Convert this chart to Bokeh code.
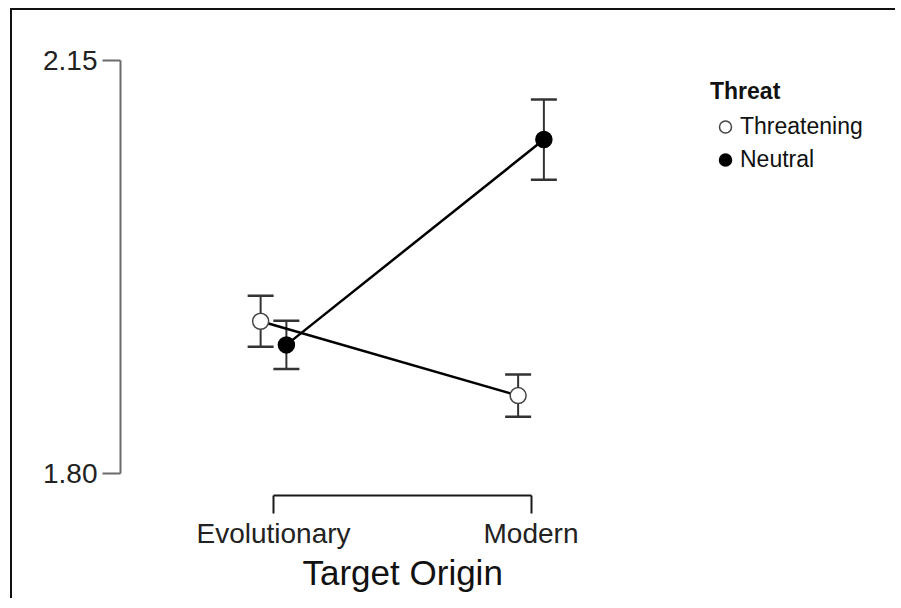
from bokeh.plotting import figure
from bokeh.models import (ColumnDataSource, Whisker, TeeHead, FixedTicker, Range1d,
                          Legend, LegendItem, PrintfTickFormatter, Title)
from bokeh.embed import file_html
from bokeh.resources import INLINE

# ---- data ----
categories = ["Evolutionary", "Modern"]
threat_levels = ["Threatening", "Neutral"]
threatening_mean = [1.929, 1.866]
threatening_err = [0.0216, 0.018]
neutral_mean = [1.909, 2.083]
neutral_err = [0.0205, 0.034]
y_ticks = [1.80, 2.15]
x_title = "Target Origin"

FONT = "Liberation Sans"
cat_pos = list(range(len(categories)))
dodge = 0.05

def make_src(means, errs, off):
    xs = [c + off for c in cat_pos]
    return ColumnDataSource(dict(
        x=xs, y=means,
        upper=[m + e for m, e in zip(means, errs)],
        lower=[m - e for m, e in zip(means, errs)],
    ))

src_t = make_src(threatening_mean, threatening_err, -dodge)
src_n = make_src(neutral_mean, neutral_err, dodge)

p = figure(width=885, height=590, output_backend="svg", toolbar_location=None,
           x_range=Range1d(-0.5942, 2.4233), y_range=Range1d(1.78136, 2.19237),
           min_border_left=108, min_border_right=0, min_border_top=0, min_border_bottom=105)
p.styles = {"border-left": "2px solid #111111", "border-top": "2px solid #111111",
            "margin-left": "10px", "margin-top": "8px"}
p.outline_line_color = None
p.xgrid.visible = False
p.ygrid.visible = False
p.background_fill_color = "white"
p.border_fill_color = "white"

# y axis
ya = p.yaxis[0]
ya.ticker = FixedTicker(ticks=y_ticks)
ya.formatter = PrintfTickFormatter(format="%.2f")
ya.bounds = (y_ticks[0], y_ticks[-1])
ya.axis_line_color = "#6a6a6a"
ya.axis_line_width = 2
ya.major_tick_line_color = "#6a6a6a"
ya.major_tick_line_width = 2
ya.major_tick_out = 18
ya.major_tick_in = 0
ya.minor_tick_out = 0
ya.minor_tick_in = 0
ya.major_label_text_font = FONT
ya.major_label_text_font_size = "28px"
ya.major_label_text_color = "#222222"
ya.major_label_standoff = 5

# x axis
xa = p.xaxis[0]
xa.ticker = FixedTicker(ticks=cat_pos)
xa.major_label_overrides = {i: c for i, c in enumerate(categories)}
xa.bounds = (cat_pos[0], cat_pos[-1])
xa.axis_line_color = "#1a1a1a"
xa.axis_line_width = 2
xa.major_tick_line_color = "#1a1a1a"
xa.major_tick_line_width = 2
xa.major_tick_out = 18
xa.major_tick_in = 0
xa.minor_tick_out = 0
xa.minor_tick_in = 0
xa.major_label_text_font = FONT
xa.major_label_text_font_size = "28px"
xa.major_label_text_color = "#222222"
xa.major_label_standoff = 4

# x axis title, centred under the bracket
t = Title(text=x_title, align="left", offset=182, standoff=2, vertical_align="top",
          text_font=FONT, text_font_size="35px", text_font_style="normal",
          text_color="#111111")
p.add_layout(t, "below")

# lines
p.line("x", "y", source=src_t, line_color="black", line_width=2.5)
p.line("x", "y", source=src_n, line_color="black", line_width=2.5)

# error bars
for src in (src_t, src_n):
    w = Whisker(source=src, base="x", upper="upper", lower="lower",
                line_color="#333333", line_width=2,
                upper_head=TeeHead(size=26, line_color="#333333", line_width=2.5),
                lower_head=TeeHead(size=26, line_color="#333333", line_width=2.5))
    p.add_layout(w)

# markers
r_t = p.scatter("x", "y", source=src_t, size=16, fill_color="white",
                line_color="#444444", line_width=1.5)
r_n = p.scatter("x", "y", source=src_n, size=16, fill_color="black",
                line_color="black", line_width=1.5)

legend = Legend(items=[LegendItem(label=threat_levels[0], renderers=[r_t]),
                       LegendItem(label=threat_levels[1], renderers=[r_n])],
                location=(590, 319), title="Threat")
legend.title_text_font = FONT
legend.title_text_font_style = "bold"
legend.title_text_font_size = "23px"
legend.title_text_color = "#111111"
legend.title_standoff = 5
legend.label_text_font = FONT
legend.label_text_font_size = "23px"
legend.label_text_color = "#111111"
legend.glyph_height = 33
legend.glyph_width = 30
legend.label_standoff = 0
legend.spacing = 0
legend.padding = 0
legend.margin = 0
legend.border_line_alpha = 0
legend.background_fill_alpha = 0
p.add_layout(legend, "center")

open("out.html", "w").write(file_html(p, INLINE))
